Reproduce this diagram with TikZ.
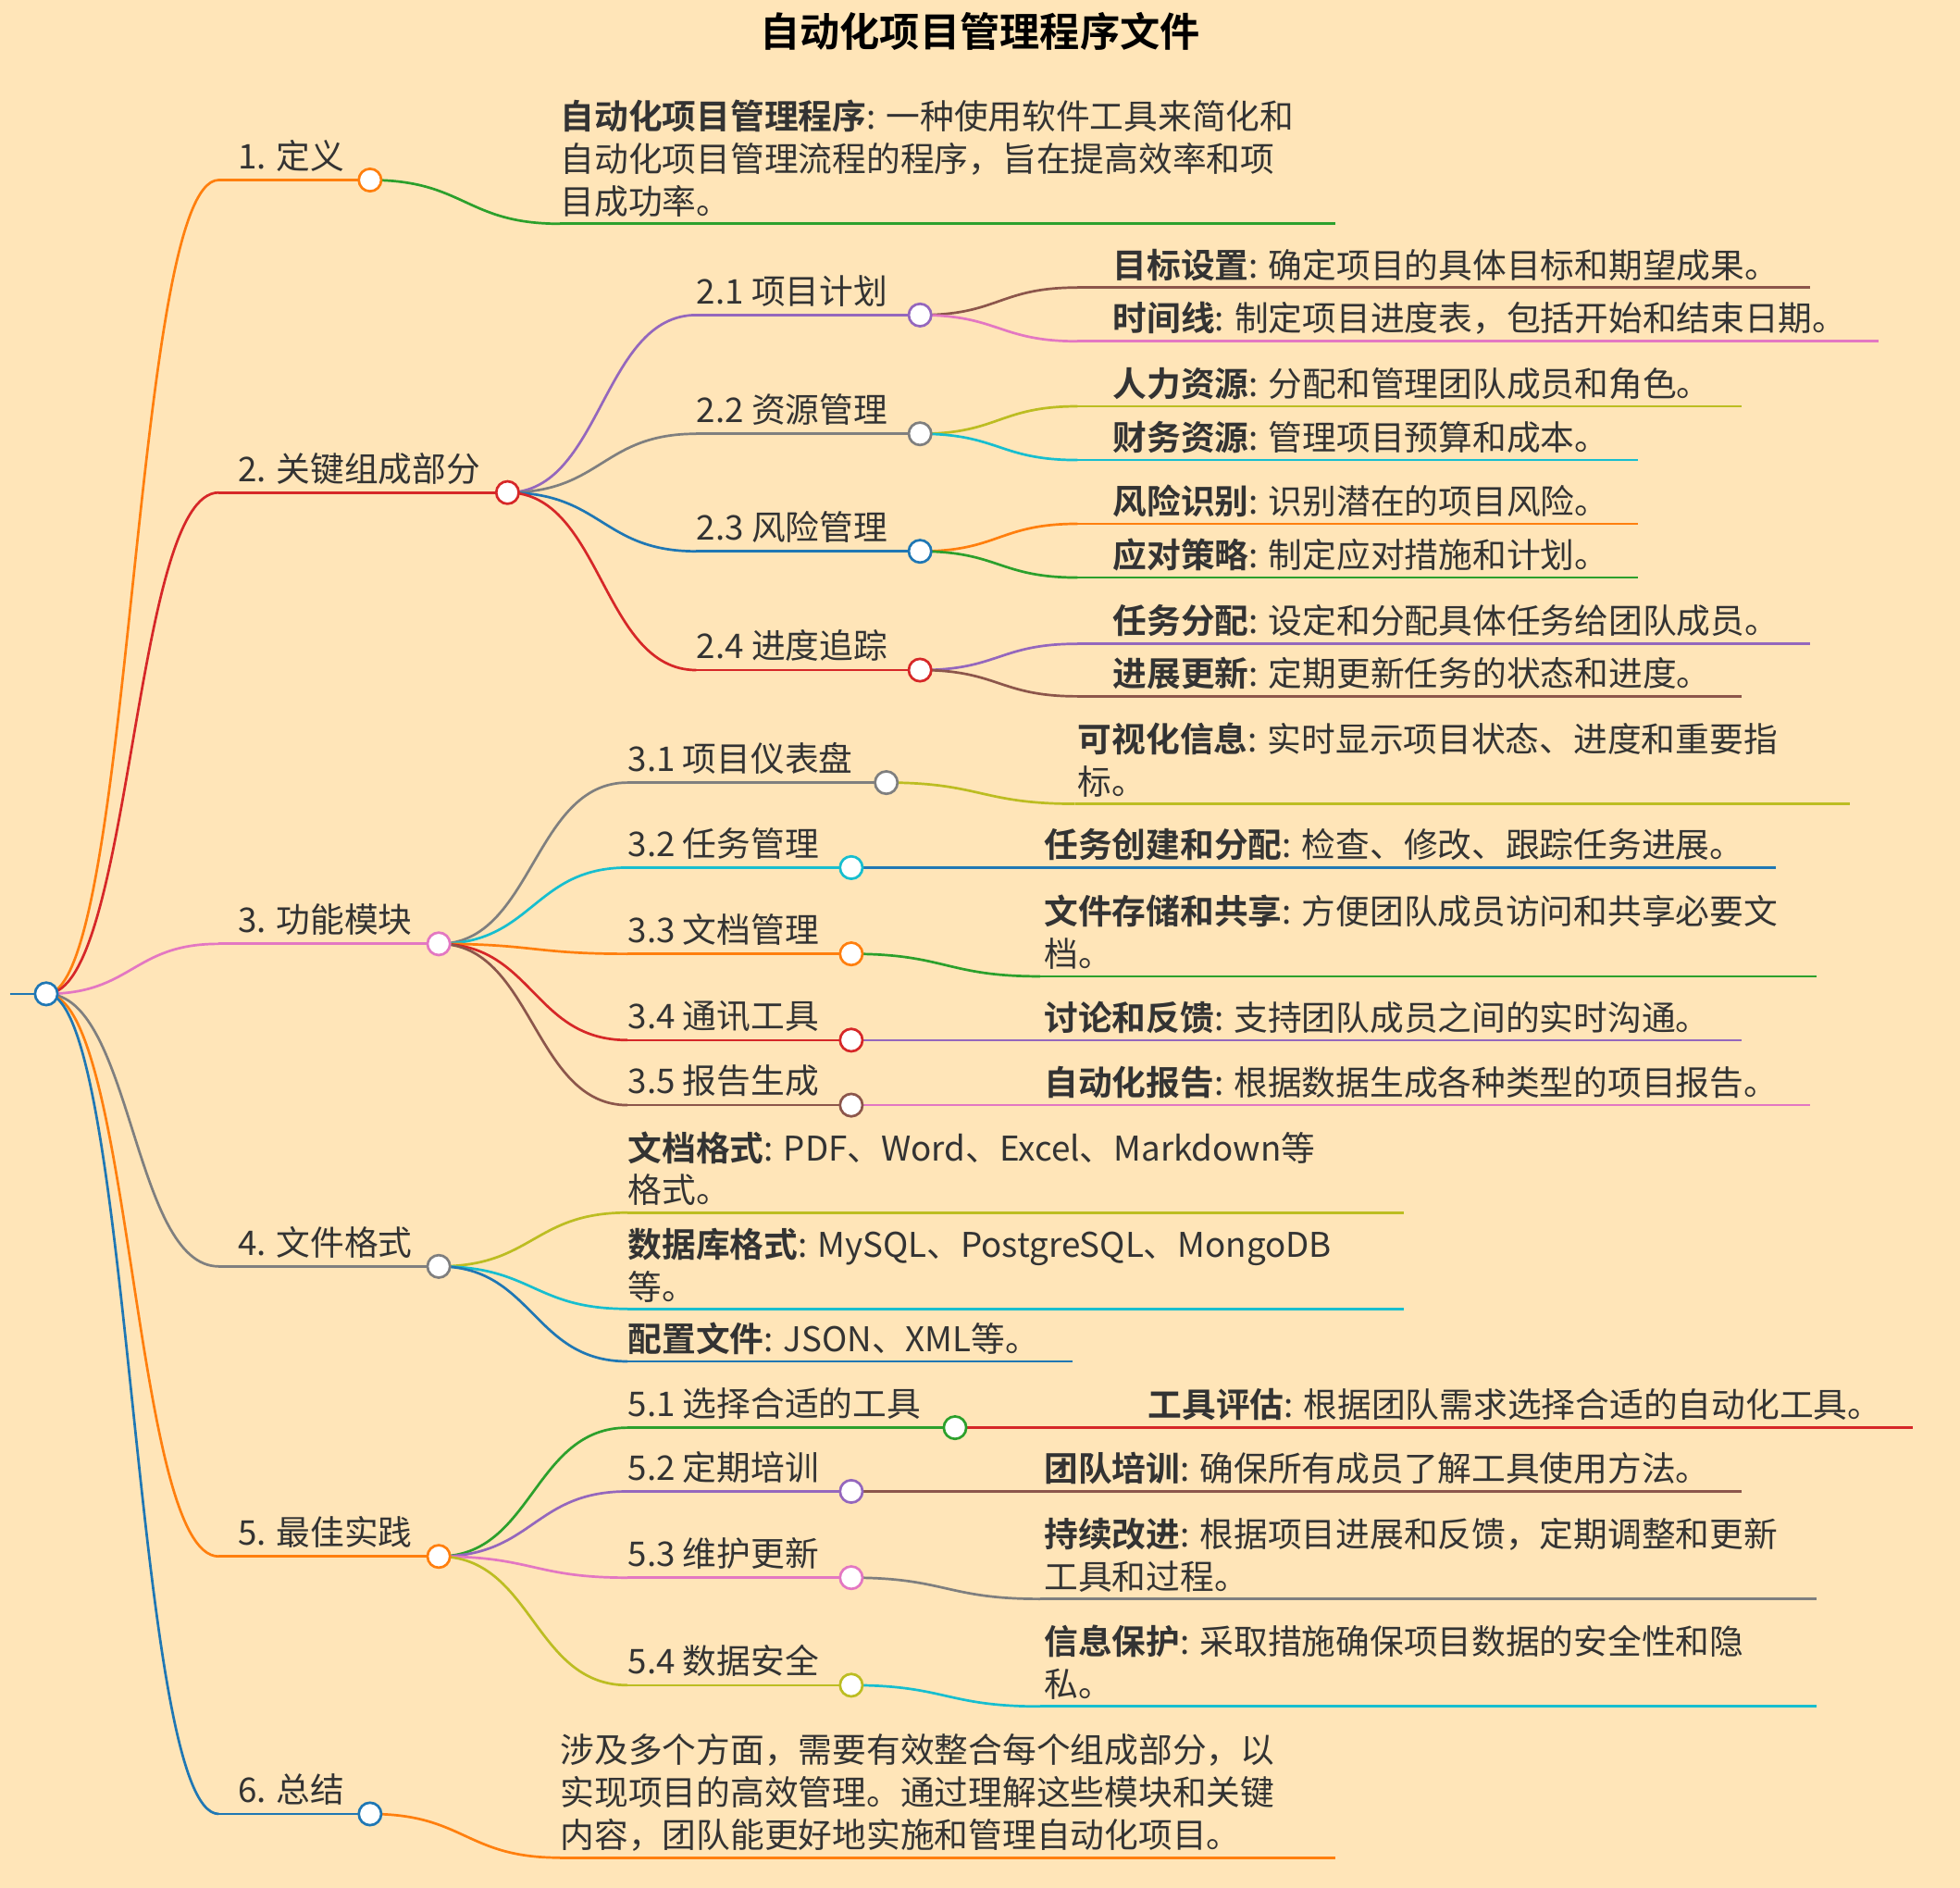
\documentclass[tikz,border=0pt]{standalone}
\usepackage{fontspec}
\setmainfont{Noto Sans CJK SC}[BoldFont={Noto Sans CJK SC Bold}]
\usetikzlibrary{calc,backgrounds}
\definecolor{bgc}{HTML}{FFE5B8}
\definecolor{cor}{HTML}{FF7F0E}
\definecolor{cre}{HTML}{D62728}
\definecolor{cgr}{HTML}{2CA02C}
\definecolor{cpu}{HTML}{9467BD}
\definecolor{cbr}{HTML}{8C564B}
\definecolor{cpi}{HTML}{E377C2}
\definecolor{cgy}{HTML}{7F7F7F}
\definecolor{col}{HTML}{BCBD22}
\definecolor{ccy}{HTML}{17BECF}
\definecolor{cbl}{HTML}{1F77B4}
\definecolor{txt}{HTML}{333333}
\tikzset{
  dotn/.style={circle,draw=#1,fill=white,line width=1pt,minimum size=9pt,inner sep=0pt},
  wire/.style={draw=#1,line width=1pt},
  lab/.style={text=txt,inner sep=0pt,anchor=base west},
  leaftxt/.style={text=txt,inner sep=0pt,anchor=south west,align=left},
}
\newcommand\mmlink[3]{\begin{pgfonlayer}{background}\draw[wire=#1] let \p1=(#2),\p2=(#3) in (\p1) .. controls ({(\x1+\x2)/2},\y1) and ({(\x1+\x2)/2},\y2) .. (\p2);\end{pgfonlayer}}
% \mmmid{name}{color}{parent}{xs}{y}{xc}{labelx}{label}
\newcommand\mmmid[8]{%
  \coordinate (#1-s) at (#4,#5);
  \node[dotn=#2] (#1) at (#6,#5) {};
  \mmlink{#2}{#3.center}{#1-s}
  \begin{pgfonlayer}{background}\draw[wire=#2] (#1-s) -- (#1.center);\end{pgfonlayer}
  \node[lab] (#1-l) at (#7,#5-9) {#8};}
% \mmleaf{name}{color}{parent}{xs}{y}{xe}{textx}{text}
\newcommand\mmleaf[8]{%
  \coordinate (#1-s) at (#4,#5);
  \coordinate (#1-e) at (#6,#5);
  \mmlink{#2}{#3.center}{#1-s}
  \begin{pgfonlayer}{background}\draw[wire=#2] (#1-s) -- (#1-e);\end{pgfonlayer}
  \node[leaftxt] (#1-t) at (#7,#5-5) {#8};}
\begin{document}
\begin{tikzpicture}[x=0.5pt,y=-0.5pt,font=\fontsize{13.6}{17}\selectfont]
\begin{pgfonlayer}{background}
\fill[bgc] (0,0) rectangle (1568,1510);
\end{pgfonlayer}
\useasboundingbox (0,0) rectangle (1568,1510);
\node[text=black,font=\fontsize{16}{20}\selectfont\bfseries] (title) at (784,25) {自动化项目管理程序文件};
\coordinate (stub) at (8,795);
\node[dotn=cbl] (root) at (37,795) {};
\begin{pgfonlayer}{background}\draw[wire=cbl] (stub) -- (root.center);\end{pgfonlayer}
% 1
\mmmid{n1}{cor}{root}{175}{144}{296}{190}{1. 定义}
\mmleaf{l1}{cgr}{n1}{448}{179}{1068}{448}{\textbf{自动化项目管理程序}: 一种使用软件工具来简化和\\自动化项目管理流程的程序，旨在提高效率和项\\目成功率。}
% 2
\mmmid{n2}{cre}{root}{175}{394}{406}{190}{2. 关键组成部分}
\mmmid{n21}{cpu}{n2}{557}{252}{736}{557}{2.1 项目计划}
\mmleaf{l211}{cbr}{n21}{862}{230}{1448}{890}{\textbf{目标设置}: 确定项目的具体目标和期望成果。}
\mmleaf{l212}{cpi}{n21}{862}{273}{1503}{890}{\textbf{时间线}: 制定项目进度表，包括开始和结束日期。}
\mmmid{n22}{cgy}{n2}{557}{347}{736}{557}{2.2 资源管理}
\mmleaf{l221}{col}{n22}{862}{325}{1393}{890}{\textbf{人力资源}: 分配和管理团队成员和角色。}
\mmleaf{l222}{ccy}{n22}{862}{368}{1310}{890}{\textbf{财务资源}: 管理项目预算和成本。}
\mmmid{n23}{cbl}{n2}{557}{441}{736}{557}{2.3 风险管理}
\mmleaf{l231}{cor}{n23}{862}{419}{1310}{890}{\textbf{风险识别}: 识别潜在的项目风险。}
\mmleaf{l232}{cgr}{n23}{862}{462}{1310}{890}{\textbf{应对策略}: 制定应对措施和计划。}
\mmmid{n24}{cre}{n2}{557}{536}{736}{557}{2.4 进度追踪}
\mmleaf{l241}{cpu}{n24}{862}{515}{1448}{890}{\textbf{任务分配}: 设定和分配具体任务给团队成员。}
\mmleaf{l242}{cbr}{n24}{862}{557}{1393}{890}{\textbf{进展更新}: 定期更新任务的状态和进度。}
% 3
\mmmid{n3}{cpi}{root}{175}{755}{351}{190}{3. 功能模块}
\mmmid{n31}{cgy}{n3}{502}{626}{709}{502}{3.1 项目仪表盘}
\mmleaf{l31}{col}{n31}{860}{643}{1480}{862}{\textbf{可视化信息}: 实时显示项目状态、进度和重要指\\标。}
\mmmid{n32}{ccy}{n3}{502}{694}{681}{502}{3.2 任务管理}
\mmleaf{l32}{cbl}{n32}{832}{694}{1421}{835}{\textbf{任务创建和分配}: 检查、修改、跟踪任务进展。}
\mmmid{n33}{cor}{n3}{502}{763}{681}{502}{3.3 文档管理}
\mmleaf{l33}{cgr}{n33}{832}{781}{1453}{835}{\textbf{文件存储和共享}: 方便团队成员访问和共享必要文\\档。}
\mmmid{n34}{cre}{n3}{502}{832}{681}{502}{3.4 通讯工具}
\mmleaf{l34}{cpu}{n34}{832}{832}{1393}{835}{\textbf{讨论和反馈}: 支持团队成员之间的实时沟通。}
\mmmid{n35}{cbr}{n3}{502}{884}{681}{502}{3.5 报告生成}
\mmleaf{l35}{cpi}{n35}{832}{884}{1448}{835}{\textbf{自动化报告}: 根据数据生成各种类型的项目报告。}
% 4
\mmmid{n4}{cgy}{root}{175}{1013}{351}{190}{4. 文件格式}
\mmleaf{l41}{col}{n4}{502}{970}{1123}{502}{\textbf{文档格式}: PDF、Word、Excel、Markdown等\\格式。}
\mmleaf{l42}{ccy}{n4}{502}{1047}{1123}{502}{\textbf{数据库格式}: MySQL、PostgreSQL、MongoDB\\等。}
\mmleaf{l43}{cbl}{n4}{502}{1089}{858}{502}{\textbf{配置文件}: JSON、XML等。}
% 5
\mmmid{n5}{cor}{root}{175}{1245}{351}{190}{5. 最佳实践}
\mmmid{n51}{cgr}{n5}{502}{1142}{764}{502}{5.1 选择合适的工具}
\mmleaf{l51}{cre}{n51}{915}{1142}{1530}{918}{\textbf{工具评估}: 根据团队需求选择合适的自动化工具。}
\mmmid{n52}{cpu}{n5}{502}{1193}{681}{502}{5.2 定期培训}
\mmleaf{l52}{cbr}{n52}{832}{1193}{1393}{835}{\textbf{团队培训}: 确保所有成员了解工具使用方法。}
\mmmid{n53}{cpi}{n5}{502}{1262}{681}{502}{5.3 维护更新}
\mmleaf{l53}{cgy}{n53}{832}{1279}{1453}{835}{\textbf{持续改进}: 根据项目进展和反馈，定期调整和更新\\工具和过程。}
\mmmid{n54}{col}{n5}{502}{1348}{681}{502}{5.4 数据安全}
\mmleaf{l54}{ccy}{n54}{832}{1365}{1453}{835}{\textbf{信息保护}: 采取措施确保项目数据的安全性和隐\\私。}
% 6
\mmmid{n6}{cbl}{root}{175}{1451}{296}{190}{6. 总结}
\mmleaf{l6}{cor}{n6}{448}{1486}{1068}{448}{涉及多个方面，需要有效整合每个组成部分，以\\实现项目的高效管理。通过理解这些模块和关键\\内容，团队能更好地实施和管理自动化项目。}
\end{tikzpicture}
\end{document}
